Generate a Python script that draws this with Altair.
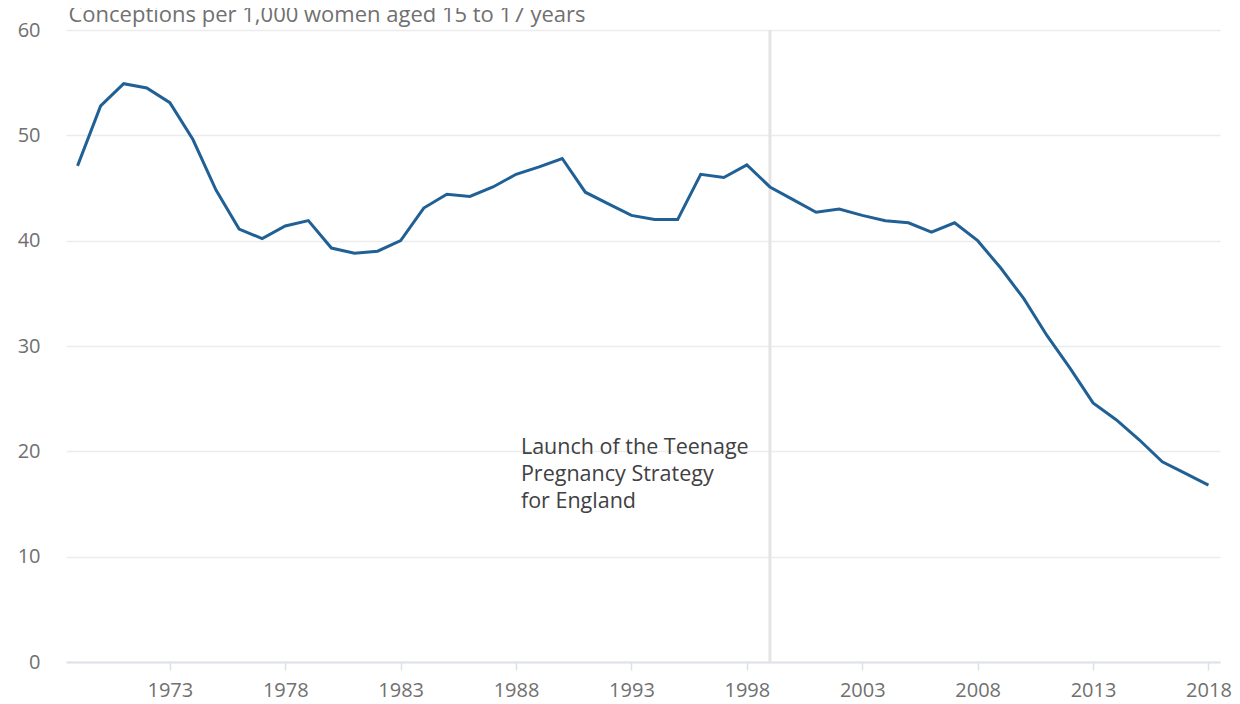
import altair as alt
import pandas as pd

years = list(range(1969, 2019))
rates = [47.1, 52.8, 54.9, 54.5, 53.1, 49.6, 44.8, 41.1, 40.2, 41.4,
         41.9, 39.3, 38.8, 39.0, 40.0, 43.1, 44.4, 44.2, 45.1, 46.3,
         47.0, 47.8, 44.6, 43.5, 42.4, 42.0, 42.0, 46.3, 46.0, 47.2,
         45.1, 43.9, 42.7, 43.0, 42.4, 41.9, 41.7, 40.8, 41.7, 40.0,
         37.4, 34.5, 31.0, 27.9, 24.6, 23.0, 21.1, 19.0, 17.9, 16.8]
tick_years = [1973, 1978, 1983, 1988, 1993, 1998, 2003, 2008, 2013, 2018]
event_year = [1999]
event_text = ["Launch of the Teenage", "Pregnancy Strategy", "for England"]
event_level = [19.75]
y_title = "Conceptions per 1,000 women aged 15 to 17 years"

df = pd.DataFrame({"year": years, "rate": rates})
ev = pd.DataFrame({"year": event_year, "label": [event_text], "level": event_level})

FONT = "Open Sans"

x_scale = alt.Scale(domain=[1968.5, 2018.5], nice=False, zero=False)
y_scale = alt.Scale(domain=[0, 60], nice=False)

x_axis = alt.Axis(values=tick_years, format="d", title=None, grid=False,
                  tickColor="#dde1ea", tickSize=8, tickWidth=1.5,
                  domainColor="#dde1ea", domainWidth=2,
                  labelFlush=False, labelPadding=10, labelFontSize=20,
                  labelColor="#707070", labelFont=FONT)
y_axis = alt.Axis(values=[0, 10, 20, 30, 40, 50, 60], title=y_title,
                  titleAngle=0, titleAlign="left", titleBaseline="alphabetic",
                  titleX=2, titleY=-9, titleFontSize=22, titleFontWeight="normal",
                  titleColor="#707070", titleFont=FONT,
                  grid=True, gridColor="#ececec", gridWidth=1.5,
                  domain=False, ticks=False, labelPadding=26,
                  labelFontSize=20, labelColor="#707070", labelFont=FONT)

rule = alt.Chart(ev).mark_rule(color="#e4e4e4", strokeWidth=3).encode(
    x=alt.X("year:Q", scale=x_scale, axis=x_axis),
    y=alt.value(0),
    y2=alt.value(632),
)

line = alt.Chart(df).mark_line(color="#206095", strokeWidth=3).encode(
    x=alt.X("year:Q", scale=x_scale, axis=x_axis),
    y=alt.Y("rate:Q", scale=y_scale, axis=y_axis),
)

text = alt.Chart(ev).mark_text(align="left", baseline="alphabetic", dx=-249,
                               fontSize=21.5, lineHeight=27, font=FONT,
                               color="#414042").encode(
    x=alt.X("year:Q", scale=x_scale),
    y=alt.Y("level:Q", scale=y_scale),
    text="label",
)

chart = alt.layer(rule, line, text).properties(
    width=1154, height=632,
    autosize=alt.AutoSizeParams(type="none"),
    padding={"left": 58, "top": 22, "right": 12, "bottom": 40},
).configure_view(stroke=None)

chart.save("out.html", embed_options={"renderer": "svg", "actions": False})
